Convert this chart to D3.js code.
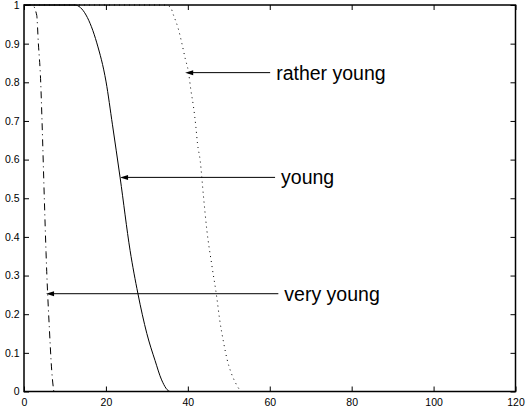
<!DOCTYPE html>
<html>
<head>
<meta charset="utf-8">
<script src="https://cdn.jsdelivr.net/npm/d3@7"></script>
<style>
  body { margin: 0; background: #fff; }
  svg { display: block; }
  .tick text { font-family: "Liberation Sans", Arial, Helvetica, sans-serif; font-size: 10.5px; fill: #000; }
  .label { font-family: "Liberation Sans", Arial, Helvetica, sans-serif; font-size: 19.5px; fill: #000; }
</style>
</head>
<body>
<script>
// values (age on x, membership on y)
var veryYoungX = [0, 2.0, 3.1, 3.5, 4.08, 4.4, 4.96, 5.38, 5.55, 6.18, 6.77, 7.16, 7.3, 120];
var veryYoungY = [1, 1, 0.974, 0.902, 0.800, 0.700, 0.500, 0.360, 0.310, 0.166, 0.054, 0.01, 0, 0];

var youngX = [0, 12.4, 15.15, 17.77, 20.04, 21.6, 23.46, 25.9, 27.8, 29.99, 32.0, 33.6, 35.7, 120];
var youngY = [1, 1, 0.974, 0.902, 0.801, 0.690, 0.554, 0.365, 0.254, 0.150, 0.080, 0.030, 0, 0];

var ratherYoungX = [0, 33.97, 35.68, 36.49, 37.71, 38.54, 39.35, 40.15, 40.74, 41.38, 41.96, 42.35, 43.01, 43.82, 44.65, 45.87, 47.10, 47.73, 48.71, 49.54, 50.52, 51.57, 52.79, 53.1, 120];
var ratherYoungY = [1, 1, 0.996, 0.974, 0.937, 0.901, 0.862, 0.827, 0.780, 0.737, 0.685, 0.642, 0.598, 0.505, 0.417, 0.326, 0.241, 0.189, 0.128, 0.085, 0.050, 0.024, 0.003, 0, 0];

var xTicks = [0, 20, 40, 60, 80, 100, 120];
var yTicks = [0, 0.1, 0.2, 0.3, 0.4, 0.5, 0.6, 0.7, 0.8, 0.9, 1];

// annotations: text, arrow tip (data), arrow tail x (data)
var noteText = ["rather young", "young", "very young"];
var noteTipX = [39.35, 23.46, 5.38];
var noteTipY = [0.825, 0.554, 0.253];
var noteTailX = [60.1, 61.3, 62.1];

var W = 531, H = 414;
var padL = 24, padR = 515.5, padT = 5, padB = 391.5;

var svg = d3.select("body").append("svg")
  .attr("width", W)
  .attr("height", H);

svg.append("rect").attr("width", W).attr("height", H).attr("fill", "#fff");

var x = d3.scaleLinear().domain([0, 120]).range([padL, padR]);
var y = d3.scaleLinear().domain([0, 1]).range([padB, padT]);

var line = d3.line()
  .x(function(d){ return x(d[0]); })
  .y(function(d){ return y(d[1]); })
  .curve(d3.curveMonotoneX);

function pairs(xs, ys){
  return xs.map(function(v, i){ return [v, ys[i]]; });
}

var series = [
  {pts: pairs(veryYoungX, veryYoungY), dash: "7,4,1,4"},
  {pts: pairs(youngX, youngY), dash: null},
  {pts: pairs(ratherYoungX, ratherYoungY), dash: "1,4"}
];

svg.selectAll(".curve")
  .data(series)
  .enter().append("path")
  .attr("class", "curve")
  .attr("d", function(d){ return line(d.pts); })
  .attr("fill", "none")
  .attr("stroke", "#000")
  .attr("stroke-width", 1)
  .attr("stroke-dasharray", function(d){ return d.dash; });

// axes, ticks pointing inward on all four sides
var fmt = d3.format("~g");
svg.append("g")
  .attr("transform", "translate(0," + padB + ")")
  .call(d3.axisBottom(x).tickValues(xTicks).tickSizeInner(-5).tickSizeOuter(0).tickPadding(7).tickFormat(fmt));
svg.append("g")
  .attr("transform", "translate(0," + padT + ")")
  .call(d3.axisTop(x).tickValues(xTicks).tickSizeInner(-5).tickSizeOuter(0).tickFormat(""));
svg.append("g")
  .attr("transform", "translate(" + padL + ",0)")
  .call(d3.axisLeft(y).tickValues(yTicks).tickSizeInner(-5).tickSizeOuter(0).tickPadding(4.5).tickFormat(fmt));
svg.append("g")
  .attr("transform", "translate(" + padR + ",0)")
  .call(d3.axisRight(y).tickValues(yTicks).tickSizeInner(-5).tickSizeOuter(0).tickFormat(""));

svg.selectAll(".domain").remove();
svg.selectAll(".tick line").attr("stroke", "#000").attr("stroke-width", 1);

svg.append("rect")
  .attr("x", padL).attr("y", padT)
  .attr("width", padR - padL).attr("height", padB - padT)
  .attr("fill", "none")
  .attr("stroke", "#000")
  .attr("stroke-width", 1.5);

// arrows with labels
var notes = svg.selectAll(".note")
  .data(noteText)
  .enter().append("g")
  .attr("class", "note");

notes.append("line")
  .attr("x1", function(d, i){ return x(noteTipX[i]) + 6; })
  .attr("x2", function(d, i){ return x(noteTailX[i]); })
  .attr("y1", function(d, i){ return y(noteTipY[i]); })
  .attr("y2", function(d, i){ return y(noteTipY[i]); })
  .attr("stroke", "#000")
  .attr("stroke-width", 1);

notes.append("path")
  .attr("d", function(d, i){
    var tx = x(noteTipX[i]), ty = y(noteTipY[i]);
    return "M" + tx + "," + ty + "L" + (tx + 8) + "," + (ty - 2.5) + "L" + (tx + 8) + "," + (ty + 2.5) + "Z";
  })
  .attr("fill", "#000");

notes.append("text")
  .attr("class", "label")
  .attr("x", function(d, i){ return x(noteTailX[i]) + 6; })
  .attr("y", function(d, i){ return y(noteTipY[i]); })
  .attr("dy", "0.36em")
  .text(function(d){ return d; });
</script>
</body>
</html>
